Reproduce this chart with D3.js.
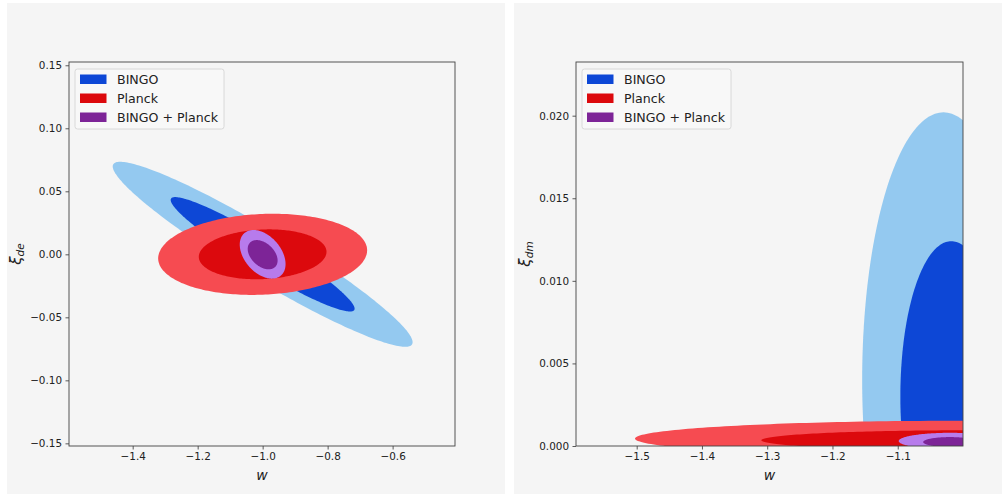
<!DOCTYPE html>
<html>
<head>
<meta charset="utf-8">
<script src="https://cdn.jsdelivr.net/npm/d3@7"></script>
<style>
  body { margin: 0; background: #ffffff; }
  svg { display: block; font-family: "DejaVu Sans", sans-serif; }
</style>
</head>
<body>
<svg id="chart" width="1002" height="497"></svg>
<script>
// samples and colours (outer = 2 sigma, inner = 1 sigma)
const samples = ['BINGO', 'Planck', 'BINGO + Planck'];
const outerColors = ['#94c9f0', '#f64b51', '#b77bec'];
const innerColors = ['#0d47d6', '#dc090d', '#7d2497'];

// left panel: w vs xi_de
const deTicksW = [-1.4, -1.2, -1.0, -0.8, -0.6];
const deTicksXi = [-0.15, -0.10, -0.05, 0.00, 0.05, 0.10, 0.15];
const deOuterW = [-1.0, -1.0, -1.0];
const deOuterXi = [0.0, 0.0, 0.0];
const deOuterHalfW = [0.4615, 0.3215, 0.0705];
const deOuterHalfXi = [0.0734, 0.0322, 0.0193];
const deInnerW = [-1.0, -1.0, -1.0];
const deInnerXi = [0.0, 0.0, -0.0003];
const deInnerHalfW = [0.283, 0.1965, 0.046];
const deInnerHalfXi = [0.0454, 0.0198, 0.0116];
const deRho = [-0.95, 0.1, -0.4];

// right panel: w vs xi_dm
const dmTicksW = [-1.5, -1.4, -1.3, -1.2, -1.1];
const dmTicksXi = [0.000, 0.005, 0.010, 0.015, 0.020];
const dmOuterW = [-1.03, -1.0, -1.02];
const dmOuterXi = [0.004, 0.00045, 0.0003];
const dmOuterHalfW = [0.1245, 0.5026, 0.0785];
const dmOuterHalfXi = [0.0162, 0.00108, 0.0005];
const dmInnerW = [-1.018, -1.0, -1.02];
const dmInnerXi = [0.003, 0.00035, 0.00024];
const dmInnerHalfW = [0.078, 0.309, 0.041];
const dmInnerHalfXi = [0.0094, 0.0006, 0.0003];
const dmRho = [0, 0, 0];

const svg = d3.select('#chart');

// two figure panels
svg.append('rect').attr('x', 7).attr('y', 3).attr('width', 498).attr('height', 491).attr('fill', '#f5f5f5');
svg.append('rect').attr('x', 514).attr('y', 3).attr('width', 488).attr('height', 491).attr('fill', '#f5f5f5');

function ellipsePath(x, y, cx, cy, hx, hy, rho) {
  const n = 240;
  const pts = d3.range(n).map(i => {
    const t = i / n * 2 * Math.PI;
    return [cx + hx * Math.cos(t), cy + hy * (rho * Math.cos(t) + Math.sqrt(1 - rho * rho) * Math.sin(t))];
  });
  return d3.line().x(d => x(d[0])).y(d => y(d[1])).curve(d3.curveLinearClosed)(pts);
}

function drawPanel(p) {
  const x = d3.scaleLinear().domain(p.xDomain).range([p.left, p.right]);
  const y = d3.scaleLinear().domain(p.yDomain).range([p.bottom, p.top]);
  const g = svg.append('g');

  g.append('clipPath').attr('id', p.id)
    .append('rect').attr('x', p.left).attr('y', p.top)
    .attr('width', p.right - p.left).attr('height', p.bottom - p.top);

  const plot = g.append('g').attr('clip-path', `url(#${p.id})`);
  samples.forEach((s, i) => {
    plot.append('path')
      .attr('d', ellipsePath(x, y, p.outerW[i], p.outerXi[i], p.outerHalfW[i], p.outerHalfXi[i], p.rho[i]))
      .attr('fill', outerColors[i]);
    plot.append('path')
      .attr('d', ellipsePath(x, y, p.innerW[i], p.innerXi[i], p.innerHalfW[i], p.innerHalfXi[i], p.rho[i]))
      .attr('fill', innerColors[i]);
  });

  // axes
  const xAxis = g.append('g')
    .attr('transform', `translate(0,${p.bottom})`)
    .call(d3.axisBottom(x).tickValues(p.xTicks).tickFormat(d3.format(p.xFmt)).tickSize(3.5).tickPadding(3.5));
  const yAxis = g.append('g')
    .attr('transform', `translate(${p.left},0)`)
    .call(d3.axisLeft(y).tickValues(p.yTicks).tickFormat(d3.format(p.yFmt)).tickSize(3.5).tickPadding(3.5));
  [xAxis, yAxis].forEach(a => {
    a.select('.domain').remove();
    a.selectAll('line').attr('stroke', '#333').attr('stroke-width', 0.8);
    a.selectAll('text').attr('fill', '#222').attr('font-size', '10.4px')
      .attr('font-family', '"DejaVu Sans", sans-serif');
  });

  g.append('rect')
    .attr('x', p.left).attr('y', p.top)
    .attr('width', p.right - p.left).attr('height', p.bottom - p.top)
    .attr('fill', 'none').attr('stroke', '#444').attr('stroke-width', 0.9);

  // axis labels
  g.append('text')
    .attr('x', (p.left + p.right) / 2).attr('y', 480)
    .attr('text-anchor', 'middle').attr('font-size', '14px').attr('font-style', 'italic')
    .attr('fill', '#222').text('w');

  const yl = g.append('text')
    .attr('transform', `translate(${p.yLabelX},${(p.top + p.bottom) / 2}) rotate(-90)`)
    .attr('text-anchor', 'middle').attr('font-size', '15px').attr('font-style', 'italic')
    .attr('fill', '#222');
  yl.append('tspan').text('ξ');
  yl.append('tspan').attr('font-size', '10.5px').attr('dy', 3).text(p.sub);

  // legend
  const lg = g.append('g').attr('transform', `translate(${p.left + 6},${p.top + 7})`);
  lg.append('rect').attr('x', 0).attr('y', 0).attr('width', 149).attr('height', 60)
    .attr('rx', 2.5).attr('fill', '#f8f8f8').attr('stroke', '#d0d0d0').attr('stroke-width', 0.8);
  samples.forEach((s, i) => {
    lg.append('rect').attr('x', 5).attr('y', 5.5 + i * 19).attr('width', 26.5).attr('height', 9.5)
      .attr('fill', innerColors[i]);
    lg.append('text').attr('x', 42).attr('y', 14.8 + i * 19)
      .attr('font-size', '12.6px').attr('fill', '#222').text(s);
  });
}

drawPanel({
  id: 'clipL', left: 69, right: 455, top: 62, bottom: 446,
  xDomain: [-1.596, -0.408], yDomain: [-0.1521, 0.1526],
  xTicks: deTicksW, yTicks: deTicksXi, xFmt: '.1f', yFmt: '.2f',
  outerW: deOuterW, outerXi: deOuterXi, outerHalfW: deOuterHalfW, outerHalfXi: deOuterHalfXi,
  innerW: deInnerW, innerXi: deInnerXi, innerHalfW: deInnerHalfW, innerHalfXi: deInnerHalfXi,
  rho: deRho, sub: 'de', yLabelX: 21
});

drawPanel({
  id: 'clipR', left: 576, right: 963, top: 62, bottom: 446,
  xDomain: [-1.593, -1.0], yDomain: [0, 0.02325],
  xTicks: dmTicksW, yTicks: dmTicksXi, xFmt: '.1f', yFmt: '.3f',
  outerW: dmOuterW, outerXi: dmOuterXi, outerHalfW: dmOuterHalfW, outerHalfXi: dmOuterHalfXi,
  innerW: dmInnerW, innerXi: dmInnerXi, innerHalfW: dmInnerHalfW, innerHalfXi: dmInnerHalfXi,
  rho: dmRho, sub: 'dm', yLabelX: 530
});
</script>
</body>
</html>
